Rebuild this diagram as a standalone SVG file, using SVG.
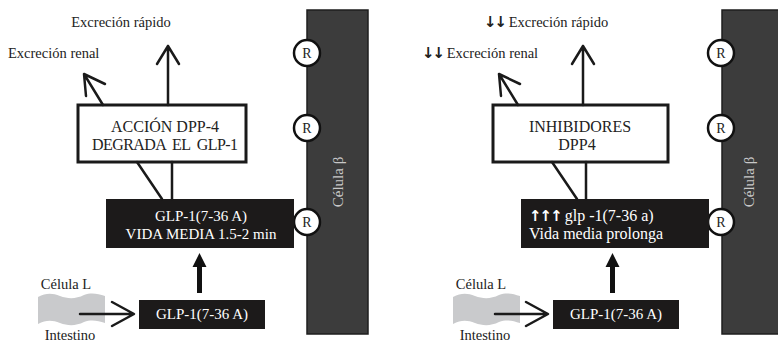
<svg xmlns="http://www.w3.org/2000/svg" width="778" height="343" viewBox="0 0 778 343">
  <defs>
    <style>
      .t { font-family: "Liberation Serif", "DejaVu Serif", serif; font-size: 14.5px; fill: #222; }
      .tw { font-family: "Liberation Serif", "DejaVu Serif", serif; font-size: 15px; fill: #fff; }
      .tw16 { font-size: 16px; }
      .tb { font-family: "Liberation Serif", "DejaVu Serif", serif; font-size: 16px; fill: #222; }
      .ar { font-family: "DejaVu Sans", sans-serif; font-weight: bold; font-size: 15px; letter-spacing: -2px; }
      .cell { fill: #3c3c3c; stroke: #1e1e1e; stroke-width: 1.5; }
      .cellt { font-family: "Liberation Serif", serif; font-size: 15px; fill: #c8c8c8; }
      .rec { fill: #fff; stroke: #111; stroke-width: 2.5; }
      .rt { font-family: "Liberation Serif", serif; font-size: 14px; fill: #222; text-anchor: middle; }
      .wbox { fill: #fff; stroke: #1a1a1a; stroke-width: 3; }
      .bbox { fill: #1c1a1a; }
      .ln { fill: none; stroke: #1a1a1a; stroke-width: 2.5; stroke-linecap: round; stroke-linejoin: round; }
      .gut { fill: #c9cacc; }
    </style>
    <path id="wave" d="M0,4 C8,0 14,0 22,3 C30,6 38,6 46,2 C54,-1 60,1 67,3 L67,30 C60,28 54,26 46,29 C38,33 30,33 22,30 C14,27 8,27 0,31 Z"/>
  </defs>

  <!-- Left panel: DPP-4 action -->
  <g id="left-cell">
    <rect class="cell" x="307" y="10" width="61" height="324"/>
    <text class="cellt" transform="translate(343,182) rotate(-90)" text-anchor="middle">Célula β</text>
  </g>
  <g id="left-receptors">
    <circle class="rec" cx="307" cy="53" r="13"/><text class="rt" x="307" y="58">R</text>
    <circle class="rec" cx="307" cy="128" r="13"/><text class="rt" x="307" y="133">R</text>
    <circle class="rec" cx="307" cy="222" r="13"/><text class="rt" x="307" y="227">R</text>
  </g>
  <g id="left-labels">
    <text class="t" x="121" y="27" text-anchor="middle">Excreción rápido</text>
    <text class="t" x="8" y="58">Excreción renal</text>
  </g>
  <g id="left-dpp4">
    <rect class="wbox" x="78" y="105" width="168" height="57"/>
    <text class="tb" x="165" y="132" text-anchor="middle">ACCIÓN DPP-4</text>
    <text class="tb" x="165" y="150" text-anchor="middle" textLength="146" lengthAdjust="spacing" xml:space="preserve">DEGRADA  EL  GLP-1</text>
  </g>
  <g id="left-glp-active">
    <rect class="bbox" x="106" y="199" width="188" height="49"/>
    <text class="tw" x="201" y="221" text-anchor="middle">GLP-1(7-36 A)</text>
    <text class="tw" x="201" y="239" text-anchor="middle">VIDA MEDIA 1.5-2 min</text>
  </g>
  <g id="left-glp">
    <rect class="bbox" x="139" y="300" width="126" height="29"/>
    <text class="tw" x="202" y="319" text-anchor="middle">GLP-1(7-36 A)</text>
  </g>
  <g id="left-gut">
    <use href="#wave" class="gut" x="38" y="293"/>
    <text class="t" x="66" y="289" text-anchor="middle">Célula L</text>
    <text class="t" x="70" y="340" text-anchor="middle">Intestino</text>
  </g>
  <g id="left-connectors">
    <path class="ln" d="M80,314 H133 M112,302 L134,314 L112,326"/>
    <path d="M197,293 V267 H192.5 L199.5,253 L206.5,267 H202 V293 Z" fill="#111"/>
    <path class="ln" d="M162,199 L137,162 M172,199 V162"/>
    <path class="ln" d="M168,105 V46 M157,64 L168,46 L179,64"/>
    <path class="ln" d="M103,105 L84,74 M84,74 L105,84 M84,74 L86,96"/>
  </g>

  <!-- Right panel: DPP-4 inhibitors -->
  <g id="right-cell">
    <rect class="cell" x="722" y="10" width="58" height="324"/>
    <text class="cellt" transform="translate(754,182) rotate(-90)" text-anchor="middle">Célula β</text>
  </g>
  <g id="right-receptors">
    <circle class="rec" cx="721" cy="53" r="13"/><text class="rt" x="721" y="58">R</text>
    <circle class="rec" cx="721" cy="128" r="13"/><text class="rt" x="721" y="133">R</text>
    <circle class="rec" cx="721" cy="222" r="13"/><text class="rt" x="721" y="227">R</text>
  </g>
  <g id="right-labels">
    <text class="t" x="484" y="27"><tspan class="ar">↓↓</tspan> Excreción rápido</text>
    <text class="t" x="422" y="58"><tspan class="ar">↓↓</tspan> Excreción renal</text>
  </g>
  <g id="right-inhibitors">
    <rect class="wbox" x="493" y="105" width="175" height="57"/>
    <text class="tb" x="580" y="132" text-anchor="middle">INHIBIDORES</text>
    <text class="tb" x="577" y="150" text-anchor="middle">DPP4</text>
  </g>
  <g id="right-glp-active">
    <rect class="bbox" x="521" y="199" width="188" height="49"/>
    <text class="tw tw16" x="529" y="221"><tspan class="ar">↑↑↑</tspan> glp -1(7-36 a)</text>
    <text class="tw tw16" x="529" y="239">Vida media prolonga</text>
  </g>
  <g id="right-glp">
    <rect class="bbox" x="553" y="300" width="126" height="29"/>
    <text class="tw" x="616" y="319" text-anchor="middle">GLP-1(7-36 A)</text>
  </g>
  <g id="right-gut">
    <use href="#wave" class="gut" x="453" y="293"/>
    <text class="t" x="481" y="289" text-anchor="middle">Célula L</text>
    <text class="t" x="485" y="340" text-anchor="middle">Intestino</text>
  </g>
  <g id="right-connectors">
    <path class="ln" d="M495,314 H547 M526,302 L548,314 L526,326"/>
    <path d="M610,293 V267 H605.5 L612.5,253 L619.5,267 H615 V293 Z" fill="#111"/>
    <path class="ln" d="M577,199 L552,162 M586,199 V162"/>
    <path class="ln" d="M583,105 V46 M572,64 L583,46 L594,64"/>
    <path class="ln" d="M518,105 L499,74 M499,74 L520,84 M499,74 L501,96"/>
  </g>
</svg>
